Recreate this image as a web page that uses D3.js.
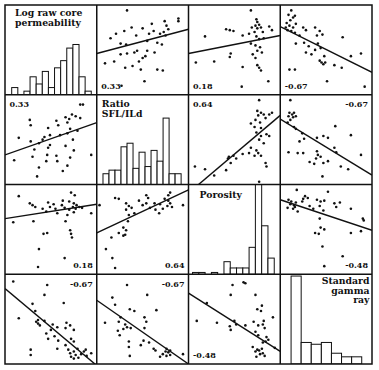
<!DOCTYPE html>
<html>
<head>
<meta charset="utf-8">
<script src="https://cdn.jsdelivr.net/npm/d3@7"></script>
<style>
  body { margin: 0; background: #fff; }
  .title { font-family: "DejaVu Serif", serif; font-weight: bold; font-size: 9.3px; fill: #111; }
  .rval { font-family: "DejaVu Serif", serif; font-weight: bold; font-size: 8px; fill: #111; }
</style>
</head>
<body>
<svg width="379" height="370"></svg>
<script>
// variables, in matrix order (values are scaled 0..1 over each variable's range)
const variables = ["perm", "ratio", "porosity", "gamma"];
const varTitles = [["Log raw core", "permeability"], ["Ratio", "SFL/ILd"], ["Porosity"], ["Standard", "gamma", "ray"]];

// histogram frequencies and bins (bin start / width in scaled units)
const permFreq = [4, 0, 2, 10, 6, 13, 4, 15, 19, 26, 28, 10, 2];
const ratioFreq = [6, 8, 8, 21, 23, 9, 18, 10, 19, 13, 37, 6, 6];
const porosityFreq = [1, 1, 0, 1, 0, 7, 3.5, 3.5, 3.5, 15, 50, 27, 9];
const gammaFreq = [49, 12, 11, 12, 6, 4, 4];
const binStart = [0.073, 0.068, 0.044, 0.118];
const binWidth = [0.0667, 0.0655, 0.0685, 0.11];

// correlation coefficients
const correlations = [[0, 1, 0.33], [0, 2, 0.18], [0, 3, -0.67], [1, 2, 0.64], [1, 3, -0.67], [2, 3, -0.48]];

// pairs: [x = column variable, y = row variable], upper panels
const ratioPerm = [[0.33,0.94],[0.89,0.85],[0.89,0.82],[0.74,0.82],[0.76,0.77],[0.78,0.73],[0.73,0.70],[0.75,0.66],[0.69,0.68],[0.62,0.71],[0.60,0.79],[0.50,0.74],[0.38,0.75],[0.30,0.71],[0.21,0.68],[0.43,0.66],[0.15,0.63],[0.57,0.68],[0.66,0.58],[0.71,0.56],[0.55,0.60],[0.26,0.57],[0.32,0.56],[0.63,0.47],[0.55,0.49],[0.26,0.45],[0.33,0.46],[0.41,0.47],[0.44,0.49],[0.09,0.35],[0.19,0.37],[0.50,0.41],[0.53,0.43],[0.46,0.37],[0.31,0.30],[0.39,0.32],[0.48,0.28],[0.66,0.28],[0.72,0.27],[0.52,0.15],[0.27,0.10]];
const porosityPerm = [[0.68,0.94],[0.74,0.84],[0.75,0.81],[0.77,0.78],[0.73,0.77],[0.69,0.75],[0.75,0.74],[0.79,0.75],[0.81,0.70],[0.72,0.70],[0.88,0.76],[0.91,0.72],[0.41,0.73],[0.45,0.72],[0.49,0.71],[0.18,0.65],[0.59,0.66],[0.66,0.68],[0.74,0.65],[0.77,0.62],[0.82,0.63],[0.68,0.57],[0.73,0.55],[0.78,0.53],[0.75,0.49],[0.80,0.47],[0.46,0.46],[0.70,0.45],[0.73,0.41],[0.08,0.36],[0.28,0.37],[0.45,0.42],[0.59,0.31],[0.75,0.33],[0.77,0.30],[0.79,0.27],[0.87,0.15],[0.58,0.09]];
const gammaPerm = [[0.12,0.94],[0.09,0.89],[0.14,0.86],[0.16,0.88],[0.11,0.83],[0.07,0.80],[0.10,0.77],[0.14,0.75],[0.17,0.79],[0.08,0.72],[0.12,0.71],[0.16,0.69],[0.06,0.75],[0.25,0.75],[0.28,0.72],[0.38,0.75],[0.43,0.71],[0.46,0.67],[0.40,0.66],[0.21,0.66],[0.68,0.64],[0.17,0.57],[0.26,0.58],[0.31,0.54],[0.41,0.57],[0.44,0.52],[0.28,0.47],[0.34,0.45],[0.38,0.50],[0.48,0.43],[0.45,0.36],[0.47,0.34],[0.49,0.36],[0.43,0.38],[0.77,0.43],[0.88,0.46],[0.59,0.33],[0.67,0.30],[0.10,0.28],[0.16,0.28],[0.51,0.15],[0.92,0.09]];
const porosityRatio = [[0.77,0.94],[0.75,0.82],[0.79,0.80],[0.76,0.77],[0.82,0.78],[0.73,0.72],[0.78,0.69],[0.84,0.74],[0.88,0.78],[0.91,0.80],[0.68,0.68],[0.72,0.64],[0.79,0.63],[0.74,0.58],[0.79,0.54],[0.85,0.56],[0.88,0.54],[0.77,0.50],[0.82,0.46],[0.68,0.41],[0.74,0.38],[0.76,0.35],[0.72,0.32],[0.79,0.32],[0.66,0.35],[0.44,0.31],[0.49,0.32],[0.43,0.29],[0.52,0.29],[0.59,0.34],[0.84,0.24],[0.85,0.20],[0.07,0.20],[0.18,0.17],[0.28,0.10],[0.46,0.24],[0.41,0.16],[0.77,0.03]];
const gammaRatio = [[0.11,0.94],[0.10,0.80],[0.13,0.78],[0.09,0.76],[0.15,0.80],[0.14,0.75],[0.11,0.72],[0.17,0.76],[0.08,0.69],[0.15,0.64],[0.17,0.62],[0.24,0.57],[0.26,0.51],[0.40,0.52],[0.47,0.54],[0.52,0.52],[0.60,0.65],[0.77,0.55],[0.21,0.48],[0.19,0.35],[0.25,0.35],[0.09,0.36],[0.41,0.33],[0.39,0.29],[0.44,0.31],[0.40,0.37],[0.59,0.41],[0.61,0.36],[0.47,0.24],[0.52,0.26],[0.32,0.25],[0.37,0.23],[0.66,0.20],[0.74,0.17],[0.88,0.33],[0.46,0.09]];
const gammaPorosity = [[0.18,0.94],[0.27,0.87],[0.25,0.84],[0.30,0.85],[0.24,0.81],[0.09,0.83],[0.12,0.81],[0.11,0.78],[0.15,0.77],[0.17,0.80],[0.08,0.74],[0.14,0.73],[0.19,0.70],[0.16,0.75],[0.40,0.83],[0.44,0.81],[0.48,0.82],[0.52,0.92],[0.43,0.76],[0.59,0.79],[0.61,0.75],[0.65,0.80],[0.77,0.73],[0.32,0.76],[0.36,0.73],[0.47,0.71],[0.43,0.62],[0.90,0.62],[0.91,0.60],[0.44,0.52],[0.48,0.50],[0.38,0.46],[0.42,0.45],[0.77,0.46],[0.88,0.48],[0.46,0.31],[0.68,0.20],[0.48,0.09]];

// fitted lines: [row, col, y at x=0, y at x=1]
const fitLines = [
  [0, 1, 0.46, 0.73], [0, 2, 0.46, 0.66], [0, 3, 0.76, 0.25],
  [1, 0, 0.33, 0.69], [1, 2, -0.095, 0.77], [1, 3, 0.73, 0.105],
  [2, 0, 0.62, 0.78], [2, 1, 0.46, 0.94], [2, 3, 0.83, 0.49],
  [3, 0, 0.84, -0.017], [3, 1, 0.71, 0.0], [3, 2, 0.79, 0.14]
];

const freqs = [permFreq, ratioFreq, porosityFreq, gammaFreq];
const pairs = { "0-1": ratioPerm, "0-2": porosityPerm, "0-3": gammaPerm, "1-2": porosityRatio, "1-3": gammaRatio, "2-3": gammaPorosity };

// where the r label sits in each panel
const rCorner = { "0-1": "bl", "0-2": "bl", "0-3": "bl", "1-0": "tl", "1-2": "tl", "1-3": "tr",
                  "2-0": "br", "2-1": "br", "2-3": "br", "3-0": "tr", "3-1": "tr", "3-2": "bl" };
// title placement in diagonal cells
const titleLayout = [
  { anchor: "start", dx: 10, dy: 11, lh: 9.6 },
  { anchor: "start", dx: 5, dy: 12.5, lh: 9.6 },
  { anchor: "start", dx: 11, dy: 13.8, lh: 9.6 },
  { anchor: "end", dx: -2.5, dy: 9.8, lh: 9.7 }
];

const svg = d3.select("svg");
const n = variables.length;
const gx = d3.scaleLinear().domain([0, n]).range([5, 372]);
const gy = d3.scaleLinear().domain([0, n]).range([5, 364]);
const fy = d3.scaleLinear().domain([0, 50]);

const defs = svg.append("defs");
const cells = svg.append("g");

function corr(r, c) {
  const a = Math.min(r, c), b = Math.max(r, c);
  return correlations.find(d => d[0] === a && d[1] === b)[2];
}

for (let r = 0; r < n; r++) {
  for (let c = 0; c < n; c++) {
    const x0 = gx(c), x1 = gx(c + 1), y0 = gy(r), y1 = gy(r + 1);
    const x = d3.scaleLinear().domain([0, 1]).range([x0, x1]);
    const y = d3.scaleLinear().domain([0, 1]).range([y1, y0]);
    const id = "clip" + r + c;
    defs.append("clipPath").attr("id", id).append("rect")
      .attr("x", x0).attr("y", y0).attr("width", x1 - x0).attr("height", y1 - y0);
    const g = cells.append("g").attr("clip-path", "url(#" + id + ")");

    if (r === c) {
      const h = fy.copy().range([y1, y0]);
      const bins = freqs[r].map((f, i) => ({ f, a: binStart[r] + i * binWidth[r], b: binStart[r] + (i + 1) * binWidth[r] }))
        .filter(d => d.f > 0);
      g.selectAll("rect.bar").data(bins).join("rect")
        .attr("class", "bar")
        .attr("x", d => x(d.a)).attr("width", d => x(d.b) - x(d.a))
        .attr("y", d => h(d.f)).attr("height", d => h(0) - h(d.f))
        .attr("fill", "#fff").attr("stroke", "#111").attr("stroke-width", 1);
      const L = titleLayout[r];
      const tx = L.anchor === "start" ? x0 + L.dx : x1 + L.dx;
      cells.append("text").attr("class", "title").attr("text-anchor", L.anchor)
        .selectAll("tspan").data(varTitles[r]).join("tspan")
        .attr("x", tx).attr("y", (d, i) => y0 + L.dy + i * L.lh)
        .text(d => d);
      continue;
    }

    let pts = r < c ? pairs[r + "-" + c] : pairs[c + "-" + r].map(p => [p[1], p[0]]);
    g.selectAll("circle").data(pts).join("circle")
      .attr("cx", d => x(d[0])).attr("cy", d => y(d[1]))
      .attr("r", 1.3).attr("fill", "#111");

    const fl = fitLines.find(d => d[0] === r && d[1] === c);
    g.append("line")
      .attr("x1", x(0)).attr("y1", y(fl[2])).attr("x2", x(1)).attr("y2", y(fl[3]))
      .attr("stroke", "#111").attr("stroke-width", 1.4);

    const corner = rCorner[r + "-" + c];
    const left = corner[1] === "l";
    const top = corner[0] === "t";
    cells.append("text").attr("class", "rval")
      .attr("text-anchor", left ? "start" : "end")
      .attr("x", left ? x0 + 4.5 : x1 - 4)
      .attr("y", top ? y0 + 12.5 : y1 - 6)
      .text(d3.format(".2f")(corr(r, c)).replace("−", "-"));
  }
}

// grid lines
const grid = svg.append("g").attr("stroke", "#111").attr("stroke-width", 1.5).attr("fill", "none");
grid.append("rect").attr("x", gx(0)).attr("y", gy(0)).attr("width", gx(n) - gx(0)).attr("height", gy(n) - gy(0));
grid.selectAll("line.v").data(d3.range(1, n)).join("line").attr("class", "v")
  .attr("x1", d => gx(d)).attr("x2", d => gx(d)).attr("y1", gy(0)).attr("y2", gy(n));
grid.selectAll("line.h").data(d3.range(1, n)).join("line").attr("class", "h")
  .attr("y1", d => gy(d)).attr("y2", d => gy(d)).attr("x1", gx(0)).attr("x2", gx(n));
</script>
</body>
</html>
